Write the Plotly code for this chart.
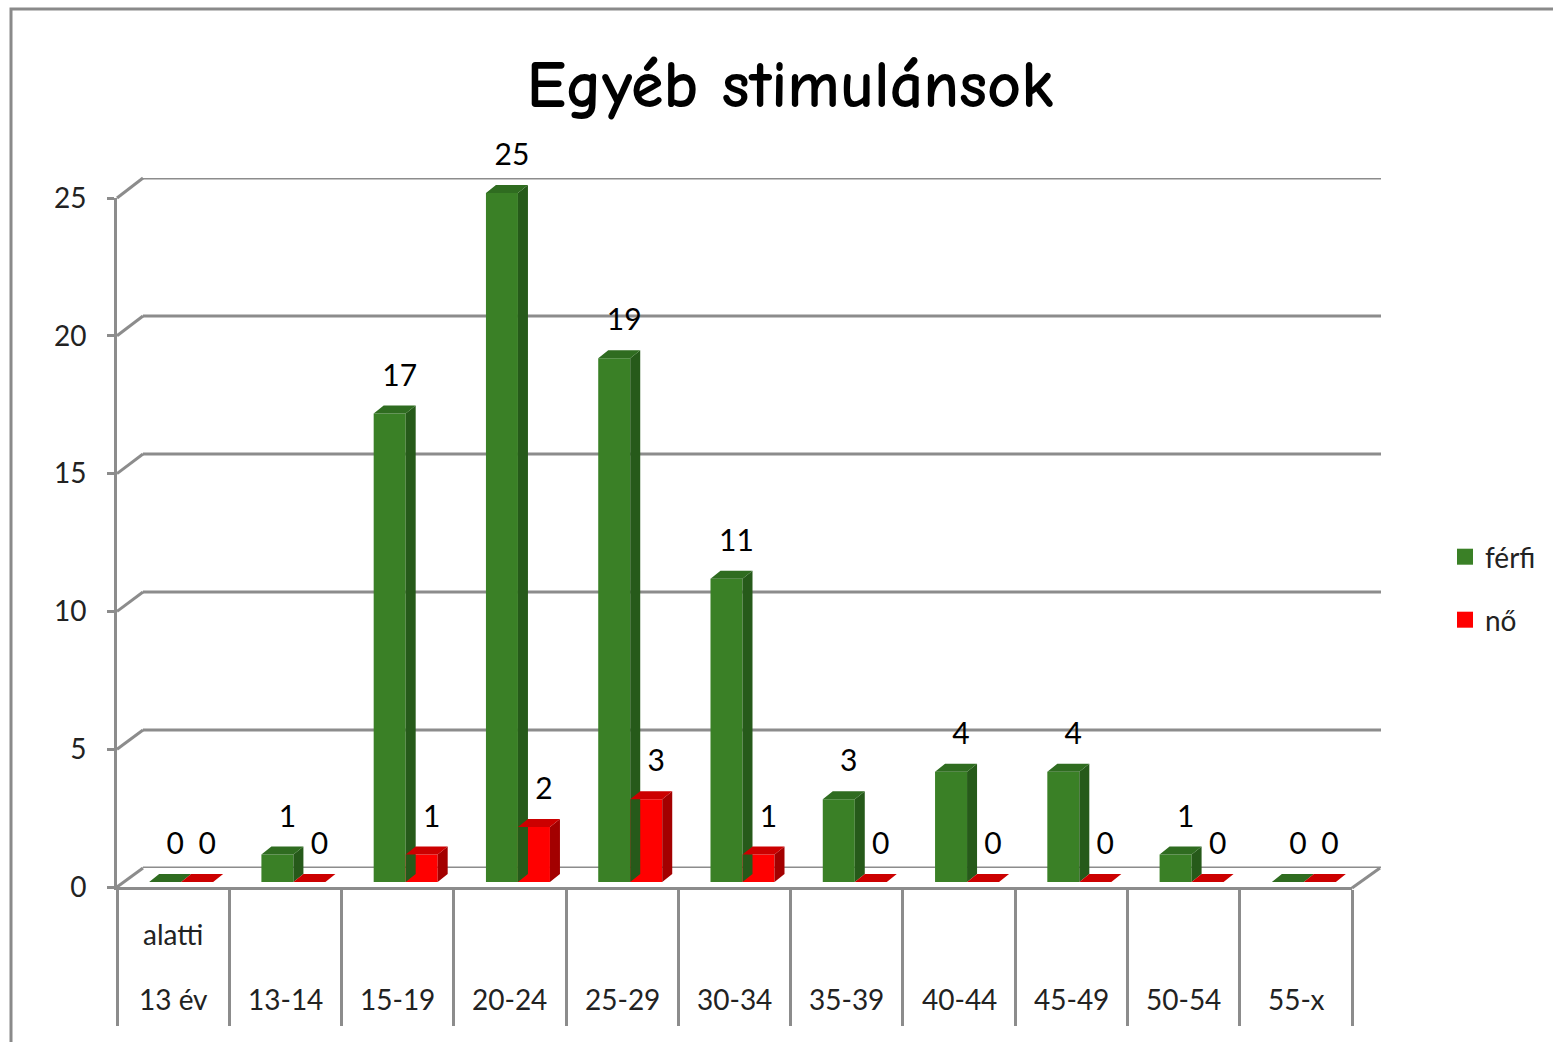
import plotly.graph_objects as go

# ---- data ----
categories = ["alatti\n13 év", "13-14", "15-19", "20-24", "25-29", "30-34",
              "35-39", "40-44", "45-49", "50-54", "55-x"]
ferfi = [0, 1, 17, 25, 19, 11, 3, 4, 4, 1, 0]
no = [0, 0, 1, 2, 3, 1, 0, 0, 0, 0, 0]
series_names = ["férfi", "nő"]
y_ticks = [0, 5, 10, 15, 20, 25]

W, H = 1553, 1042
FONT = "Lato, Open Sans, Liberation Sans, sans-serif"
GRID = "#8c8c8c"

def px(x):
    return x / W

def py(y):
    return 1 - y / H

# pixel geometry of the pseudo-3D frame
FX0, FX1 = 117, 1352          # front floor edge
FY0, FY25 = 887, 198          # front axis 0 / 25
BX0, BX1 = 143, 1381          # back wall
BY0, BY25 = 868, 178
unit = (FY0 - FY25) / 25.0
BAR_Y0 = 882
BAR_X_SHIFT = 8
YMAX3 = 28

n = len(categories)
idx = list(range(n))
cat_w = (FX1 - FX0) / n
w = 32 / cat_w                 # bar width in category units
dx = 10 / cat_w                # depth offset
dy = 8 / unit

colors = {
    "front": ["#3a8026", "#ff0000"],
    "side": ["#265a1a", "#a30000"],
    "top": ["#2f6c20", "#cc0000"],
}

fig = go.Figure()

# dummy trace so the back-wall subplot exists
fig.add_trace(go.Scatter(x=[None], y=[None], xaxis="x2", yaxis="y2",
                         showlegend=False, hoverinfo="skip"))

series = [ferfi, no]
offsets = [-w, 0.0]
for s, vals in enumerate(series):
    off = offsets[s]
    fig.add_trace(go.Bar(
        x=idx, y=vals, offset=off, width=w,
        marker=dict(color=colors["front"][s], line=dict(width=0)),
        xaxis="x3", yaxis="y3", showlegend=False, hoverinfo="skip"))
    sx, sy = [], []
    tx, ty = [], []
    for i, v in zip(idx, vals):
        x0 = i + off
        x1 = x0 + w
        if v > 0:
            sx += [x1, x1 + dx, x1 + dx, x1, x1, None]
            sy += [0, dy, v + dy, v, 0, None]
        tx += [x0, x0 + dx, x1 + dx, x1, x0, None]
        ty += [v, v + dy, v + dy, v, v, None]
    fig.add_trace(go.Scatter(x=sx, y=sy, fill="toself", mode="lines",
                             line=dict(width=0), fillcolor=colors["side"][s],
                             xaxis="x3", yaxis="y3", showlegend=False,
                             hoverinfo="skip"))
    fig.add_trace(go.Scatter(x=tx, y=ty, fill="toself", mode="lines",
                             line=dict(width=0), fillcolor=colors["top"][s],
                             xaxis="x3", yaxis="y3", showlegend=False,
                             hoverinfo="skip"))
    fig.add_trace(go.Scatter(
        x=[i + off + w / 2 + dx for i in idx],
        y=[v + dy + 0.45 for v in vals],
        mode="text", text=[str(v) for v in vals], textposition="top center",
        textfont=dict(family=FONT, size=30, color="#000000"),
        xaxis="x3", yaxis="y3", showlegend=False, hoverinfo="skip"))

for s, name in enumerate(series_names):
    fig.add_trace(go.Scatter(
        x=[None], y=[None], mode="markers", name=name,
        marker=dict(symbol="square", size=18, color=colors["front"][s]),
        xaxis="x3", yaxis="y3", showlegend=True,
        legend="legend" if s == 0 else "legend2"))

shapes = []
for v in y_ticks:
    shapes.append(dict(type="line", xref="paper", yref="paper",
                       x0=px(FX0), y0=py(FY0 - v * unit),
                       x1=px(BX0), y1=py(BY0 - v * (BY0 - BY25) / 25),
                       line=dict(color=GRID, width=3)))
shapes.append(dict(type="line", xref="paper", yref="paper",
                   x0=px(FX1), y0=py(FY0 + 1), x1=px(BX1 - 1), y1=py(BY0),
                   line=dict(color=GRID, width=3)))
# back wall horizontal gridlines
for v in y_ticks:
    shapes.append(dict(type="line", xref="paper", yref="y2",
                       x0=px(BX0), x1=px(BX1), y0=v, y1=v,
                       line=dict(color=GRID, width=3), layer="below"))
shapes.append(dict(type="rect", xref="paper", yref="paper",
                   x0=px(11), y0=py(1060), x1=px(1570), y1=py(9),
                   line=dict(color="#8a8a8a", width=3), layer="below"))

annotations = []
for i, c in enumerate(categories):
    lines = c.split("\n")
    for k, line in enumerate(reversed(lines)):
        annotations.append(dict(
            x=i, y=py(999 - 65 * k), xref="x", yref="paper",
            text=line, showarrow=False, yanchor="middle",
            font=dict(family=FONT, size=28, color="#222222")))

fig.update_layout(
    width=W, height=H,
    margin=dict(l=0, r=0, t=0, b=0, autoexpand=False),
    paper_bgcolor="white", plot_bgcolor="rgba(0,0,0,0)",
    barmode="overlay",
    title=dict(text="<b>Egyéb stimulánsok</b>", x=px(790), y=py(84),
               xanchor="center", yanchor="middle",
               font=dict(family="Comic Sans MS, Comic Neue, Lato, sans-serif",
                         size=66, color="#000000")),
    xaxis=dict(domain=[px(FX0), px(FX1)], range=[-0.5, n - 0.5],
               tickvals=[i - 0.5 for i in range(n + 1)],
               ticks="outside", ticklen=136, tickwidth=3, tickcolor=GRID,
               showline=True, linecolor=GRID, linewidth=3,
               showticklabels=False, showgrid=False, zeroline=False,
               anchor="y", automargin=False),
    yaxis=dict(domain=[py(FY0), py(FY25)], range=[0, 25],
               tickvals=y_ticks, ticks="outside", ticklen=7, tickwidth=3,
               tickcolor=GRID, showline=True, linecolor=GRID, linewidth=3,
               showgrid=False, zeroline=False, anchor="x",
               ticklabelstandoff=15, automargin=False,
               tickfont=dict(family=FONT, size=28, color="#222222")),
    xaxis2=dict(domain=[px(BX0), px(BX1)], range=[-0.5, n - 0.5],
                visible=False, anchor="y2", automargin=False),
    yaxis2=dict(domain=[py(BY0), py(BY25)], range=[0, 25],
                visible=False, anchor="x2", automargin=False),
    xaxis3=dict(domain=[px(FX0 + BAR_X_SHIFT), px(FX1 + BAR_X_SHIFT)],
                range=[-0.5, n - 0.5], visible=False, anchor="y3",
                automargin=False),
    yaxis3=dict(domain=[py(BAR_Y0), py(BAR_Y0 - YMAX3 * unit)],
                range=[0, YMAX3], visible=False, anchor="x3",
                automargin=False),
    legend=dict(x=px(1445), y=py(557), xanchor="left", yanchor="middle",
                font=dict(family=FONT, size=28, color="#222222"),
                bgcolor="rgba(0,0,0,0)"),
    legend2=dict(x=px(1445), y=py(620), xanchor="left", yanchor="middle",
                 font=dict(family=FONT, size=28, color="#222222"),
                 bgcolor="rgba(0,0,0,0)"),
    shapes=shapes,
    annotations=annotations,
)

fig.write_html("out.html",
               config={"displayModeBar": False},
               post_script="document.body.style.margin='0';"
                           "document.body.style.overflow='hidden';")
